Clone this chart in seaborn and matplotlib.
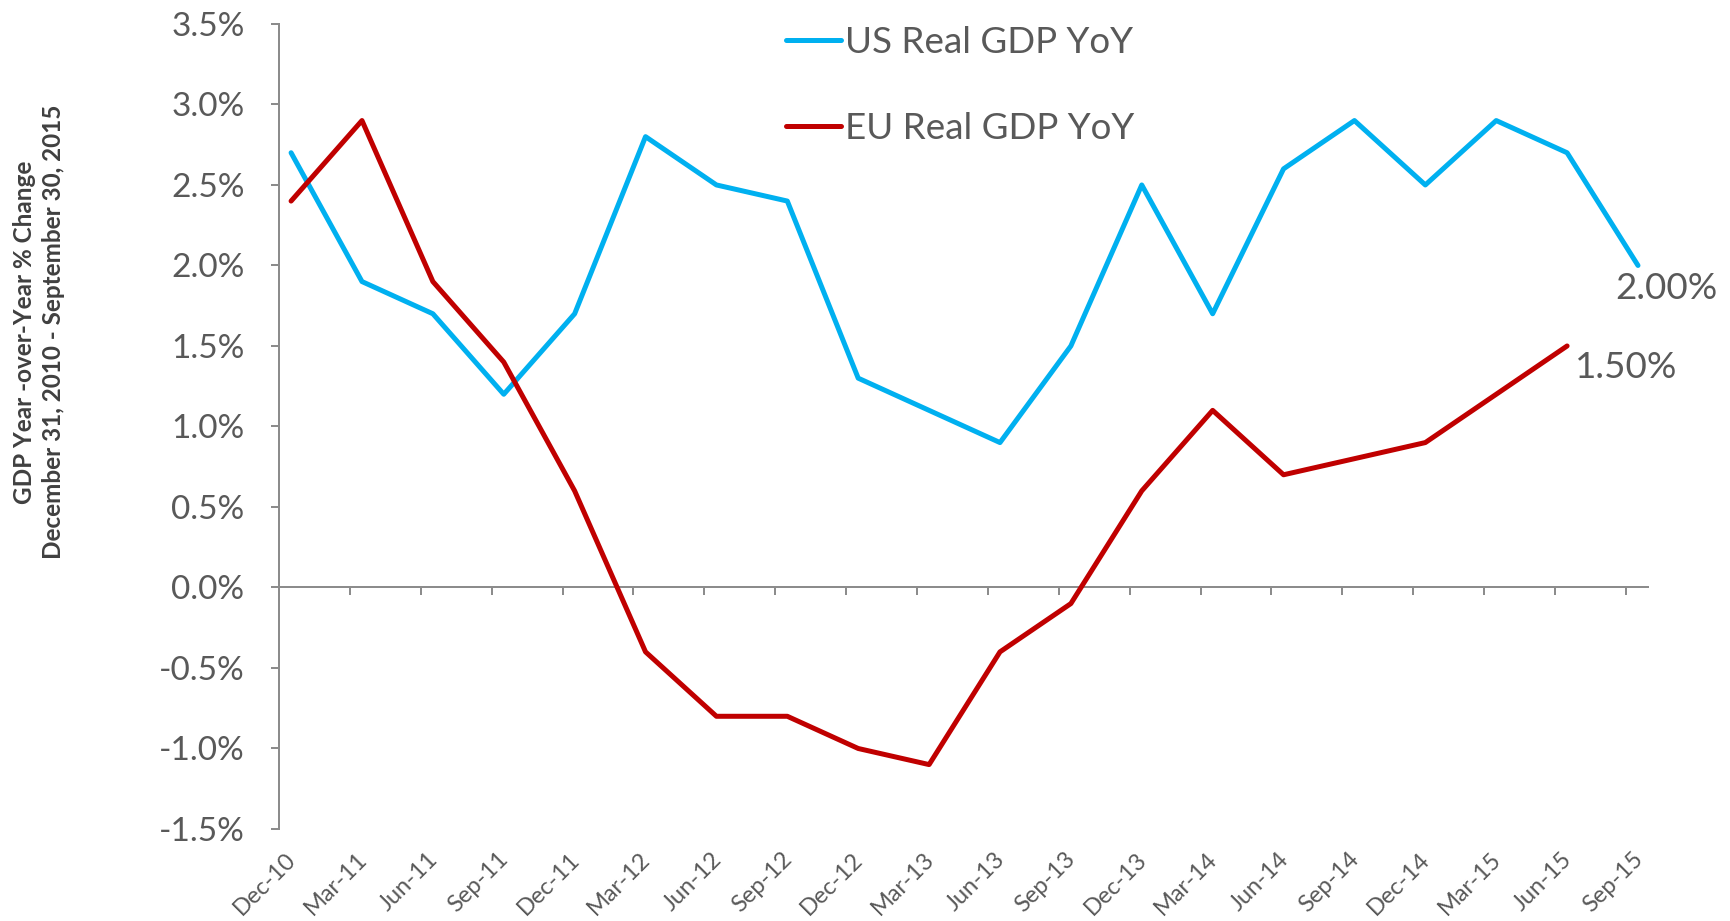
import numpy as np
import pandas as pd
import matplotlib
matplotlib.use("Agg")
import matplotlib.pyplot as plt
import matplotlib.transforms as mtransforms
import seaborn as sns

# ---------- data ---------- #
quarters = ["Dec-10", "Mar-11", "Jun-11", "Sep-11", "Dec-11", "Mar-12", "Jun-12",
            "Sep-12", "Dec-12", "Mar-13", "Jun-13", "Sep-13", "Dec-13", "Mar-14",
            "Jun-14", "Sep-14", "Dec-14", "Mar-15", "Jun-15", "Sep-15"]
us_gdp = [2.7, 1.9, 1.7, 1.2, 1.7, 2.8, 2.5, 2.4, 1.3, 1.1,
          0.9, 1.5, 2.5, 1.7, 2.6, 2.9, 2.5, 2.9, 2.7, 2.0]
eu_gdp = [2.4, 2.9, 1.9, 1.4, 0.6, -0.4, -0.8, -0.8, -1.0, -1.1,
          -0.4, -0.1, 0.6, 1.1, 0.7, 0.8, 0.9, 1.2, 1.5, np.nan]
series_names = ["US Real GDP YoY", "EU Real GDP YoY"]
series_colors = ["#00B0F0", "#C00000"]
y_ticks = [-1.5, -1.0, -0.5, 0.0, 0.5, 1.0, 1.5, 2.0, 2.5, 3.0, 3.5]
y_title = "GDP Year -over-Year % Change\nDecember 31, 2010 - September 30, 2015"

sns.set_theme(style="white")
plt.rcParams['font.family'] = ['Lato', 'DejaVu Sans']

text_grey = "#595959"
axis_grey = "#8C8C8C"

df = pd.DataFrame({"pos": range(len(quarters)),
                   series_names[0]: us_gdp,
                   series_names[1]: eu_gdp})
long = df.melt(id_vars="pos", var_name="series", value_name="yoy").dropna()

fig = plt.figure(figsize=(17.31, 9.21), dpi=100)
ax = fig.add_axes([0.1612, 0.0999, 0.952 - 0.1612, 0.974 - 0.0999])

sns.lineplot(data=long, x="pos", y="yoy", hue="series", hue_order=series_names,
             palette=dict(zip(series_names, series_colors)), linewidth=3.6,
             solid_capstyle="round", solid_joinstyle="round", ax=ax)

ax.set_xlim(-0.17, len(quarters) - 1 + 0.14)
ax.set_ylim(y_ticks[0], y_ticks[-1])
ax.set_xlabel("")
ax.set_ylabel("")

# y axis
ax.set_yticks(y_ticks)
ax.set_yticklabels([f"{v:.1f}%" for v in y_ticks])
ax.tick_params(axis="y", direction="out", length=5.8, width=1.44, color=axis_grey,
               labelsize=24, labelcolor=text_grey, pad=19, left=True)

# x labels at the bottom
ax.set_xticks(range(len(quarters)))
ax.set_xticklabels(quarters, rotation=45, ha="right", rotation_mode="anchor")
ax.tick_params(axis="x", length=0, labelsize=17, labelcolor=text_grey, pad=14)
shift = mtransforms.ScaledTranslation(-6 / 100, 0, fig.dpi_scale_trans)
for lab in ax.get_xticklabels():
    lab.set_transform(lab.get_transform() + shift)

for s in ["top", "right", "bottom"]:
    ax.spines[s].set_visible(False)
ax.spines["left"].set_color(axis_grey)
ax.spines["left"].set_linewidth(1.44)

# zero line with tick marks between categories
zero_frac = (0 - y_ticks[0]) / (y_ticks[-1] - y_ticks[0])
sec = ax.secondary_xaxis(zero_frac)
sec.set_xticks([p - 0.17 for p in range(len(quarters))])
sec.tick_params(axis="x", direction="out", length=5.8, width=1.44, color=axis_grey,
                labelbottom=False, labeltop=False)
for s in sec.spines.values():
    s.set_color(axis_grey)
    s.set_linewidth(1.44)

# legend
ax.legend(loc="upper left", bbox_to_anchor=(0.454, 0.972), bbox_transform=fig.transFigure,
          frameon=False, fontsize=26.5, handlelength=1.5, handletextpad=0.12,
          labelspacing=1.45, borderpad=0, borderaxespad=0, labelcolor=text_grey)

# end labels
ax.annotate(f"{us_gdp[-1]:.2f}%", xy=(len(quarters) - 1, us_gdp[-1]), xytext=(-23, -23),
            textcoords="offset pixels", ha="left", va="center", fontsize=26.5, color=text_grey)
eu_last = max(i for i, v in enumerate(eu_gdp) if not np.isnan(v))
ax.annotate(f"{eu_gdp[eu_last]:.2f}%", xy=(eu_last, eu_gdp[eu_last]), xytext=(8, -22),
            textcoords="offset pixels", ha="left", va="center", fontsize=26.5, color=text_grey)

fig.text(39 / 1731, 1 - 332 / 921, y_title, rotation=90, ha="center", va="center",
         fontsize=17.5, fontweight="bold", color="#404040", linespacing=1.3,
         multialignment="center")

fig.savefig("out.png", dpi=100)
